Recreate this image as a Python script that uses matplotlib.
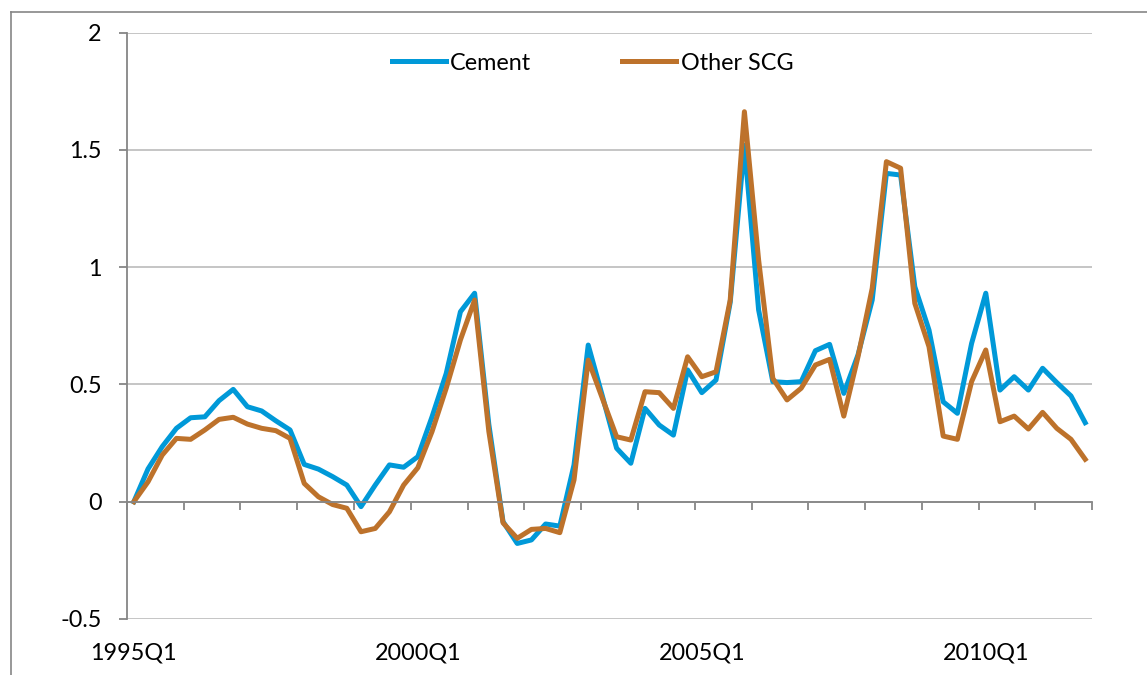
import numpy as np
import matplotlib
matplotlib.use("Agg")
import matplotlib.pyplot as plt
from matplotlib.lines import Line2D

plt.rcParams["font.family"] = ["Lato", "DejaVu Sans"]

# quarterly series, 1995Q1 .. 2011Q4
quarters = [f"{y}Q{q}" for y in range(1995, 2012) for q in range(1, 5)]

cement = [
    0.00, 0.14, 0.235, 0.313, 0.358, 0.362, 0.431, 0.479, 0.405, 0.387,
    0.345, 0.306, 0.159, 0.139, 0.107, 0.071, -0.021, 0.071, 0.157, 0.147,
    0.192, 0.362, 0.547, 0.81, 0.889, 0.33, -0.085, -0.178, -0.163, -0.095,
    -0.104, 0.157, 0.668, 0.45, 0.228, 0.164, 0.398, 0.327, 0.284, 0.562,
    0.465, 0.519, 0.85, 1.52, 0.818, 0.512, 0.508, 0.512, 0.644, 0.671,
    0.462, 0.626, 0.86, 1.40, 1.393, 0.917, 0.732, 0.426, 0.377, 0.675,
    0.889, 0.476, 0.533, 0.476, 0.569, 0.508, 0.451, 0.337,
]
other_scg = [
    0.00, 0.085, 0.199, 0.27, 0.266, 0.306, 0.351, 0.36, 0.331, 0.313,
    0.303, 0.27, 0.078, 0.021, -0.012, -0.028, -0.128, -0.114, -0.043, 0.071,
    0.145, 0.299, 0.484, 0.69, 0.86, 0.30, -0.09, -0.156, -0.118, -0.114,
    -0.132, 0.093, 0.604, 0.44, 0.277, 0.263, 0.469, 0.465, 0.398, 0.618,
    0.533, 0.554, 0.86, 1.663, 1.031, 0.526, 0.434, 0.484, 0.583, 0.607,
    0.365, 0.618, 0.91, 1.45, 1.422, 0.846, 0.661, 0.28, 0.266, 0.512,
    0.647, 0.341, 0.365, 0.31, 0.381, 0.313, 0.266, 0.181,
]
yticks = [-0.5, 0, 0.5, 1, 1.5, 2]
ytick_labels = ["-0.5", "0", "0.5", "1", "1.5", "2"]

x = np.arange(len(quarters))
axis_grey = "#868686"
grid_grey = "#c0c0c0"
fsize = 16.8

fig = plt.figure(figsize=(11.47, 6.75), dpi=100)
ax = fig.add_axes([0.1105, 0.0830, 0.8418, 0.8686])

ax.plot(x, cement, color="#0099d8", lw=3.6, label="Cement", solid_joinstyle="round")
ax.plot(x, other_scg, color="#bd722b", lw=3.6, label="Other SCG", solid_joinstyle="round")

ax.set_xlim(-0.5, len(quarters) - 0.5)
ax.set_ylim(-0.5, 2)
ax.set_yticks(yticks)
ax.set_yticklabels(ytick_labels)
ax.yaxis.grid(True, color=grid_grey, lw=1.3)
ax.set_axisbelow(True)

# category axis crosses at zero, ticks at year boundaries
ax.spines["bottom"].set_position(("data", 0))
ax.spines["bottom"].set_color(axis_grey)
ax.spines["bottom"].set_linewidth(1.3)
ax.spines["left"].set_color(axis_grey)
ax.spines["left"].set_linewidth(1.3)
ax.spines["top"].set_visible(False)
ax.spines["right"].set_visible(False)
ax.set_xticks(np.arange(-0.5, len(quarters), 4))
ax.tick_params(axis="x", length=6, width=1.3, color=axis_grey, labelbottom=False)
ax.tick_params(axis="y", length=6, width=1.3, color=axis_grey, pad=12,
               labelsize=fsize, labelcolor="black")

# labels sit low, below the plot area
sec = ax.secondary_xaxis(0)
sec.set_xticks(x[::20])
sec.set_xticklabels([quarters[i] for i in x[::20]])
sec.tick_params(length=0, pad=17, labelsize=fsize)
sec.spines["bottom"].set_visible(False)

ax.legend(loc="center left", bbox_to_anchor=(0.2747, 0.948), ncol=2, frameon=False,
          fontsize=fsize, handlelength=2.3, handletextpad=0.2, columnspacing=3.9,
          borderpad=0, borderaxespad=0)

# chart area border
fig.add_artist(Line2D([11 / 1147, 11 / 1147], [0, 1 - 12 / 675], color=axis_grey, lw=1.2))
fig.add_artist(Line2D([11 / 1147, 1], [1 - 12 / 675, 1 - 12 / 675], color=axis_grey, lw=1.2))

fig.savefig("out.png", dpi=100)
